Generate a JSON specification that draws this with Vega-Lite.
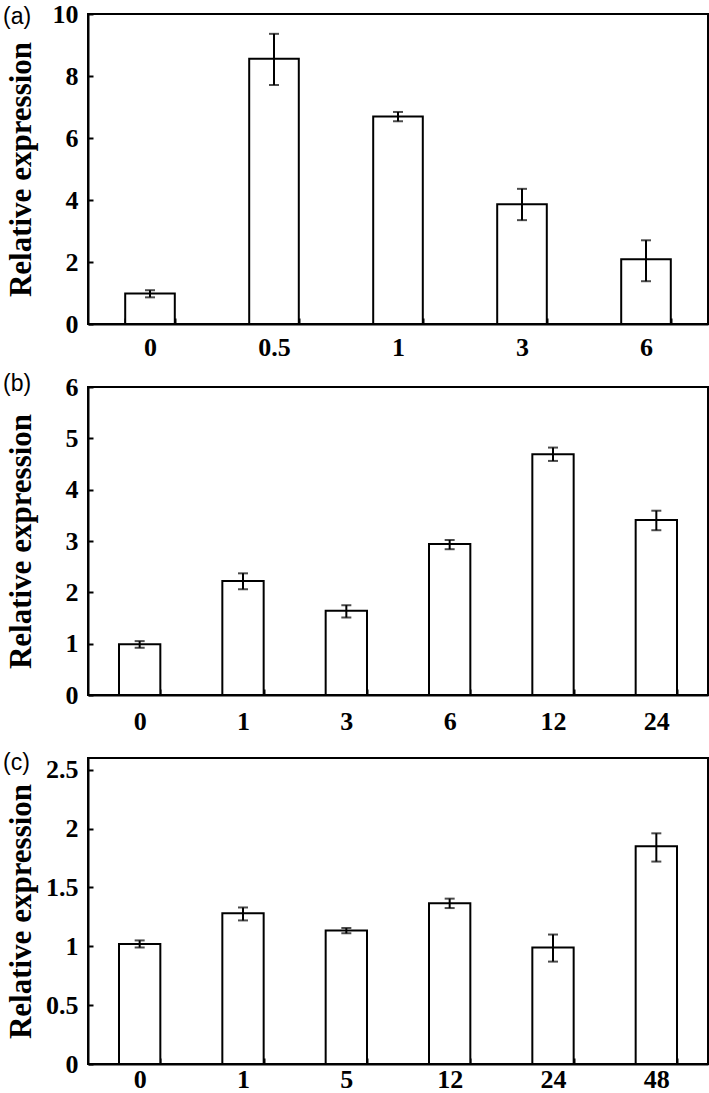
{
  "$schema": "https://vega.github.io/schema/vega-lite/v6.json",
  "padding": {"left": 2, "top": 0, "right": 2, "bottom": 0},
  "background": "white",
  "bounds": "flush",
  "spacing": 63,
  "config": {
    "view": {"stroke": "black", "strokeWidth": 2},
    "axis": {
      "domainColor": "black", "domainWidth": 2, "tickColor": "black", "tickWidth": 2,
      "labelFont": "Liberation Serif", "labelFontWeight": "bold", "labelFontSize": 26, "labelColor": "black",
      "titleFont": "Liberation Serif", "titleFontWeight": "bold", "titleFontSize": 31, "titleColor": "black",
      "grid": false
    },
    "axisX": {"labelAngle": 0, "tickBand": "extent", "tickSize": -6, "labelPadding": 18, "title": null},
    "axisY": {"tickSize": -5, "labelPadding": 15, "titleX": -51, "format": "~r"},
    "title": {"font": "Liberation Sans", "fontSize": 23, "fontWeight": "normal", "anchor": "start", "frame": "group", "color": "black"}
  },
  "datasets": {
    "a": [
      {"t": "0", "mean": 0.98, "lo": 0.86, "hi": 1.09},
      {"t": "0.5", "mean": 8.56, "lo": 7.71, "hi": 9.36},
      {"t": "1", "mean": 6.69, "lo": 6.54, "hi": 6.84},
      {"t": "3", "mean": 3.86, "lo": 3.35, "hi": 4.36},
      {"t": "6", "mean": 2.09, "lo": 1.38, "hi": 2.70}
    ],
    "b": [
      {"t": "0", "mean": 0.99, "lo": 0.92, "hi": 1.05},
      {"t": "1", "mean": 2.22, "lo": 2.06, "hi": 2.37},
      {"t": "3", "mean": 1.64, "lo": 1.51, "hi": 1.75},
      {"t": "6", "mean": 2.94, "lo": 2.84, "hi": 3.02},
      {"t": "12", "mean": 4.69, "lo": 4.56, "hi": 4.82},
      {"t": "24", "mean": 3.41, "lo": 3.21, "hi": 3.59}
    ],
    "c": [
      {"t": "0", "mean": 1.02, "lo": 0.99, "hi": 1.05},
      {"t": "1", "mean": 1.28, "lo": 1.22, "hi": 1.33},
      {"t": "5", "mean": 1.135, "lo": 1.11, "hi": 1.155},
      {"t": "12", "mean": 1.365, "lo": 1.325, "hi": 1.405},
      {"t": "24", "mean": 0.99, "lo": 0.87, "hi": 1.10},
      {"t": "48", "mean": 1.85, "lo": 1.72, "hi": 1.96}
    ]
  },
  "resolve": {"scale": {"x": "independent", "y": "independent"}},
  "vconcat": [
    {
      "width": 620, "height": 310,
      "title": {"text": "(a)", "dx": -85, "offset": -28},
      "data": {"name": "a"},
      "encoding": {"x": {"field": "t", "type": "nominal", "sort": null, "scale": {"paddingInner": 0.6, "paddingOuter": 0.3}, "axis": {"labelPadding": 16}}},
      "layer": [
        {"mark": {"type": "bar", "fill": "white", "stroke": "black", "strokeWidth": 2},
         "encoding": {"y": {"field": "mean", "type": "quantitative", "title": "Relative expression", "scale": {"domain": [0, 10]}, "axis": {"values": [0, 2, 4, 6, 8, 10]}}}},
        {"mark": {"type": "errorbar", "ticks": {"size": 10}, "thickness": 2, "color": "black"},
         "encoding": {"y": {"field": "lo", "type": "quantitative", "title": "Relative expression"}, "y2": {"field": "hi"}}}
      ]
    },
    {
      "width": 620, "height": 308,
      "title": {"text": "(b)", "dx": -85, "offset": -22},
      "data": {"name": "b"},
      "encoding": {"x": {"field": "t", "type": "nominal", "sort": null, "scale": {"paddingInner": 0.6, "paddingOuter": 0.3}, "axis": {"labelPadding": 19}}},
      "layer": [
        {"mark": {"type": "bar", "fill": "white", "stroke": "black", "strokeWidth": 2},
         "encoding": {"y": {"field": "mean", "type": "quantitative", "title": "Relative expression", "scale": {"domain": [0, 6]}, "axis": {"values": [0, 1, 2, 3, 4, 5, 6]}}}},
        {"mark": {"type": "errorbar", "ticks": {"size": 10}, "thickness": 2, "color": "black"},
         "encoding": {"y": {"field": "lo", "type": "quantitative", "title": "Relative expression"}, "y2": {"field": "hi"}}}
      ]
    },
    {
      "width": 620, "height": 306,
      "title": {"text": "(c)", "dx": -85, "offset": -18},
      "data": {"name": "c"},
      "encoding": {"x": {"field": "t", "type": "nominal", "sort": null, "scale": {"paddingInner": 0.6, "paddingOuter": 0.3}, "axis": {"labelPadding": 8}}},
      "layer": [
        {"mark": {"type": "bar", "fill": "white", "stroke": "black", "strokeWidth": 2},
         "encoding": {"y": {"field": "mean", "type": "quantitative", "title": "Relative expression", "scale": {"domain": [0, 2.5]}, "axis": {"values": [0, 0.5, 1, 1.5, 2, 2.5]}}}},
        {"mark": {"type": "errorbar", "ticks": {"size": 10}, "thickness": 2, "color": "black"},
         "encoding": {"y": {"field": "lo", "type": "quantitative", "title": "Relative expression"}, "y2": {"field": "hi"}}}
      ]
    }
  ]
}
